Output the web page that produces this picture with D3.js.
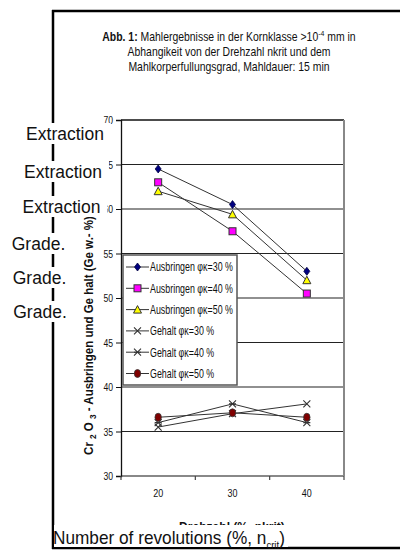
<!DOCTYPE html>
<html>
<head>
<meta charset="utf-8">
<script src="https://cdn.jsdelivr.net/npm/d3@7"></script>
<style>
  body { margin: 0; background: #fff; }
  svg { display: block; }
</style>
</head>
<body>
<div id="vis-container"></div>
<script>
// Data
var categories = ["20", "30", "40"];
var yTicks = [30, 35, 40, 45, 50, 55, 60, 65, 70];
var seriesNames = ["Ausbringen φκ=30 %", "Ausbringen φκ=40 %", "Ausbringen φκ=50 %",
                   "Gehalt φκ=30 %", "Gehalt φκ=40 %", "Gehalt φκ=50 %"];
var ausbringen30 = [64.5, 60.5, 53.0];
var ausbringen40 = [63.0, 57.5, 50.5];
var ausbringen50 = [62.0, 59.4, 52.0];
var gehalt30 = [35.5, 37.0, 38.1];
var gehalt40 = [36.0, 38.1, 36.0];
var gehalt50 = [36.6, 37.1, 36.6];
var overlayLeft = ["Extraction", "Extraction", "Extraction", "Grade.", "Grade.", "Grade."];

var width = 400, height = 551;
var font = "'Liberation Sans', Arial, sans-serif";

var svg = d3.select("#vis-container")
	.append("svg")
	.attr("width", width)
	.attr("height", height)
	.style("background", "#fff");

// squeeze a text horizontally around x = ox (the original uses a narrow face)
function squeeze(sel, sx, ox) {
	sel.attr("transform", "translate(" + ox + ",0) scale(" + sx + ",1) translate(" + (-ox) + ",0)");
}

// plot area
var plot = { left: 121, right: 344, top: 120, bottom: 476 };

var xScale = d3.scaleBand().domain(categories).range([plot.left, plot.right]).padding(0);
var yScale = d3.scaleLinear().domain([30, 70]).range([plot.bottom, plot.top]);

// Title
var title = svg.append("text")
	.attr("text-anchor", "middle")
	.style("font-family", font)
	.style("font-size", "12px")
	.attr("fill", "#111");
var t1 = title.append("tspan").attr("x", 229).attr("y", 41);
t1.append("tspan").style("font-weight", "bold").text("Abb. 1:");
t1.append("tspan").text(" Mahlergebnisse in der Kornklasse >10");
t1.append("tspan").attr("dy", -5).style("font-size", "8px").text("-4");
t1.append("tspan").attr("dy", 5).text(" mm in");
title.append("tspan").attr("x", 229).attr("y", 56).text("Abhangikeit von der Drehzahl nkrit und dem");
title.append("tspan").attr("x", 229).attr("y", 71).text("Mahlkorperfullungsgrad, Mahldauer: 15 min");
squeeze(title, 0.87, 229);

// Gridlines
svg.append("g")
	.selectAll("line")
	.data(yTicks.filter(function (d) { return d > 30 && d < 70; }))
	.enter().append("line")
	.attr("x1", plot.left).attr("x2", plot.right)
	.attr("y1", function (d) { return yScale(d); })
	.attr("y2", function (d) { return yScale(d); })
	.attr("stroke", "#222").attr("stroke-width", 1.2);

// plot frame: top/left black, right/bottom gray
svg.append("line").attr("x1", plot.left).attr("x2", plot.right).attr("y1", plot.top).attr("y2", plot.top)
	.attr("stroke", "#111").attr("stroke-width", 1.3);
svg.append("line").attr("x1", plot.right).attr("x2", plot.right).attr("y1", plot.top).attr("y2", plot.bottom)
	.attr("stroke", "#888").attr("stroke-width", 2);
svg.append("line").attr("x1", plot.left).attr("x2", plot.right).attr("y1", plot.bottom).attr("y2", plot.bottom)
	.attr("stroke", "#888").attr("stroke-width", 2);

// Y axis
var yAxis = svg.append("g")
	.attr("transform", "translate(" + plot.left + ",0)")
	.call(d3.axisLeft(yScale).tickValues(yTicks).tickSize(5).tickPadding(3).tickFormat(d3.format("d")));
yAxis.select(".domain").attr("stroke", "#111").attr("stroke-width", 1.3);
yAxis.selectAll(".tick line").attr("stroke", "#111");
yAxis.selectAll("text").style("font-family", font).style("font-size", "11.5px").attr("fill", "#111")
	.each(function () { squeeze(d3.select(this), 0.75, -8); });

// X axis
var xAxis = svg.append("g")
	.attr("transform", "translate(0," + plot.bottom + ")")
	.call(d3.axisBottom(xScale).tickSize(0).tickPadding(13));
xAxis.select(".domain").remove();
xAxis.selectAll("text").style("font-family", font).style("font-size", "11.5px").attr("fill", "#111")
	.each(function () { squeeze(d3.select(this), 0.78, 0); });
xAxis.selectAll(".sep")
	.data(categories.concat(["end"]))
	.enter().append("line")
	.attr("x1", function (d, i) { return plot.left + i * xScale.bandwidth(); })
	.attr("x2", function (d, i) { return plot.left + i * xScale.bandwidth(); })
	.attr("y1", 0).attr("y2", 4)
	.attr("stroke", "#444").attr("stroke-width", 1.2);

// Y axis title
var ylabG = svg.append("g").attr("transform", "translate(93,335.5) rotate(-90)");
var ylab = ylabG.append("text")
	.attr("text-anchor", "middle")
	.style("font-family", font)
	.style("font-size", "12.5px")
	.style("font-weight", "bold")
	.attr("fill", "#111");
ylab.append("tspan").text("Cr ");
ylab.append("tspan").attr("dy", 3).style("font-size", "9px").text("2");
ylab.append("tspan").attr("dy", -3).text(" O ");
ylab.append("tspan").attr("dy", 3).style("font-size", "9px").text("3");
ylab.append("tspan").attr("dy", -3).text(" - Ausbringen und Ge halt (Ge w.- %)");
squeeze(ylab, 239 / ylab.node().getBBox().width, 0);

// X axis title (mostly hidden under the overlay)
var xlab = svg.append("text")
	.attr("x", 232).attr("y", 531)
	.attr("text-anchor", "middle")
	.style("font-family", font)
	.style("font-size", "12.5px")
	.style("font-weight", "bold")
	.attr("fill", "#111")
	.text("Drehzahl (%, nkrit)");
squeeze(xlab, 106 / xlab.node().getBBox().width, 232);

// Series
var series = [
	{ name: seriesNames[0], values: ausbringen30, marker: "diamond", fill: "#000080" },
	{ name: seriesNames[1], values: ausbringen40, marker: "square", fill: "#ff00ff" },
	{ name: seriesNames[2], values: ausbringen50, marker: "triangle", fill: "#ffff00" },
	{ name: seriesNames[3], values: gehalt30, marker: "x", fill: "none" },
	{ name: seriesNames[4], values: gehalt40, marker: "star", fill: "none" },
	{ name: seriesNames[5], values: gehalt50, marker: "circle", fill: "#800000" }
];

var line = d3.line()
	.x(function (d, i) { return xScale(categories[i]) + xScale.bandwidth() / 2; })
	.y(function (d) { return yScale(d); });

function drawMarker(g, type, fill) {
	if (type == "diamond") {
		g.append("path").attr("d", "M0,-4L3,0L0,4L-3,0Z").attr("fill", fill).attr("stroke", "#000040").attr("stroke-width", 0.8);
	} else if (type == "square") {
		g.append("rect").attr("x", -3.5).attr("y", -3.5).attr("width", 7).attr("height", 7)
			.attr("fill", fill).attr("stroke", "#333").attr("stroke-width", 1);
	} else if (type == "triangle") {
		g.append("path").attr("d", "M0,-4L4,3.5L-4,3.5Z").attr("fill", fill).attr("stroke", "#333").attr("stroke-width", 1);
	} else if (type == "x") {
		g.append("path").attr("d", "M-3.5,-3.5L3.5,3.5M-3.5,3.5L3.5,-3.5").attr("stroke", "#333").attr("stroke-width", 1.1);
	} else if (type == "star") {
		g.append("path").attr("d", "M-3.5,-3.5L3.5,3.5M-3.5,3.5L3.5,-3.5M-3.5,0L3.5,0").attr("stroke", "#333").attr("stroke-width", 1.1);
	} else if (type == "circle") {
		g.append("ellipse").attr("rx", 3.2).attr("ry", 4).attr("fill", fill).attr("stroke", "#333").attr("stroke-width", 0.8);
	}
}

series.forEach(function (s) {
	svg.append("path")
		.datum(s.values)
		.attr("fill", "none")
		.attr("stroke", "#333")
		.attr("stroke-width", 1)
		.attr("d", line);
});
series.forEach(function (s) {
	s.values.forEach(function (v, i) {
		var g = svg.append("g")
			.attr("transform", "translate(" + (xScale(categories[i]) + xScale.bandwidth() / 2) + "," + yScale(v) + ")");
		drawMarker(g, s.marker, s.fill);
	});
});

// Legend
var legend = svg.append("g").attr("transform", "translate(123,255)");
legend.append("rect")
	.attr("width", 114).attr("height", 130)
	.attr("fill", "#fff").attr("stroke", "#555").attr("stroke-width", 1.5);
series.forEach(function (s, i) {
	var ly = 12 + i * 21.3;
	legend.append("line").attr("x1", 3).attr("x2", 26).attr("y1", ly).attr("y2", ly)
		.attr("stroke", "#333").attr("stroke-width", 1);
	drawMarker(legend.append("g").attr("transform", "translate(14.5," + ly + ")"), s.marker, s.fill);
	var lt = legend.append("text")
		.attr("x", 27).attr("y", ly + 4.5)
		.style("font-family", font)
		.style("font-size", "12px")
		.attr("fill", "#111")
		.text(s.name);
	squeeze(lt, 0.74, 27);
});

// Outer frame (left and top/bottom borders)
svg.append("line").attr("x1", 53).attr("x2", 53).attr("y1", 10).attr("y2", 549)
	.attr("stroke", "#000").attr("stroke-width", 2.5);
svg.append("line").attr("x1", 52).attr("x2", 400).attr("y1", 11).attr("y2", 11)
	.attr("stroke", "#000").attr("stroke-width", 2.5);
svg.append("line").attr("x1", 52).attr("x2", 400).attr("y1", 548).attr("y2", 548)
	.attr("stroke", "#000").attr("stroke-width", 2.5);

// English overlay labels with white boxes
var leftLabels = [
	{ x: 65, y: 140 }, { x: 63, y: 178 }, { x: 61.5, y: 213 },
	{ x: 38.5, y: 250 }, { x: 39.5, y: 284 }, { x: 40, y: 318 }
];
overlayLeft.forEach(function (txt, i) {
	var g = svg.append("g");
	var t = g.append("text")
		.attr("x", leftLabels[i].x).attr("y", leftLabels[i].y)
		.attr("text-anchor", "middle")
		.style("font-family", font)
		.style("font-size", "17.5px")
		.attr("fill", "#111")
		.text(txt);
	var bb = t.node().getBBox();
	var extra = i < 3 ? 7 : 3;
	g.insert("rect", "text")
		.attr("x", bb.x - 2).attr("y", leftLabels[i].y - 17)
		.attr("width", bb.width + 2 + extra).attr("height", 21)
		.attr("fill", "#fff");
});

var xg = svg.append("g");
var xt = xg.append("text")
	.attr("x", 53).attr("y", 544)
	.style("font-family", font)
	.style("font-size", "18px")
	.attr("fill", "#111");
xt.append("tspan").text("Number of revolutions (%, n");
xt.append("tspan").attr("dy", 5).style("font-size", "10px").text("crit");
xt.append("tspan").attr("dy", -5).text(")");
squeeze(xt, 232 / xt.node().getBBox().width, 53);
xg.insert("rect", "text")
	.attr("x", 54).attr("y", 525).attr("width", 234).attr("height", 22)
	.attr("fill", "#fff");
</script>
</body>
</html>
